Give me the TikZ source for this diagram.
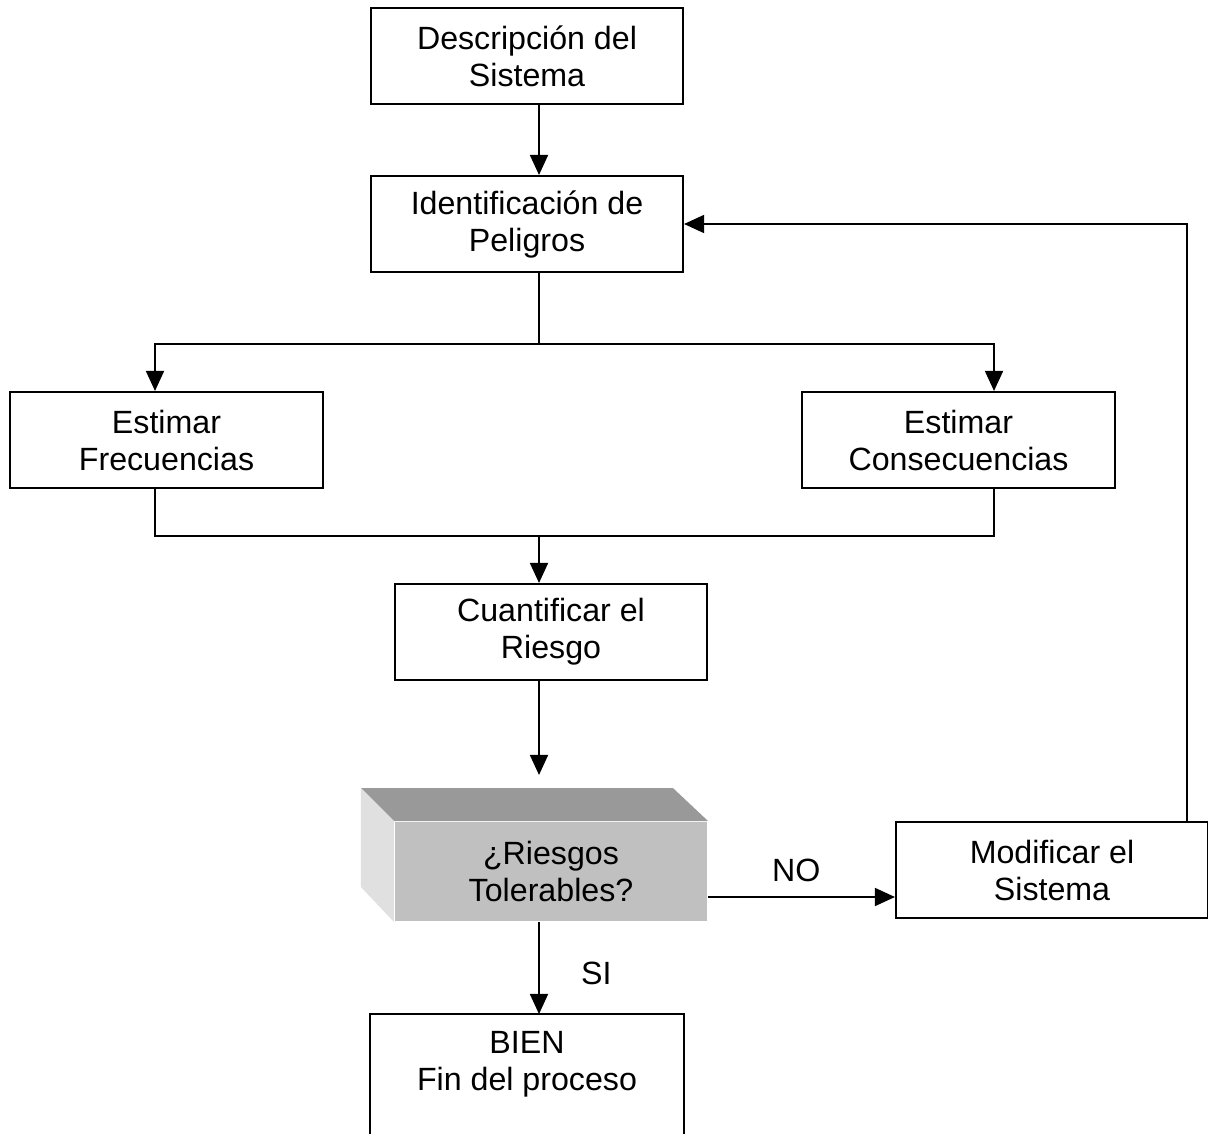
\documentclass[tikz,border=0pt]{standalone}
\usepackage{fontspec}
\setmainfont{Liberation Sans}
\usetikzlibrary{arrows.meta, positioning}
\definecolor{FaceFront}{HTML}{C0C0C0}
\definecolor{FaceTop}{HTML}{999999}
\definecolor{FaceSide}{HTML}{E0E0E0}

\begin{document}
\begin{tikzpicture}[
    x=0.373pt, y=-0.373pt,
    procbox/.style={rectangle, draw=black, fill=white, line width=0.75pt,
                  minimum height=35.8pt, minimum width=116.4pt, inner sep=2pt,
                  font=\fontsize{12}{13.8}\selectfont, align=center},
    tolbox/.style={procbox, draw=none, fill=FaceFront, minimum height=36.9pt},
    arr/.style={-{Triangle[length=7.5pt, width=6.7pt]}, line width=0.75pt},
    lin/.style={line width=0.75pt},
    lbl/.style={font=\fontsize{12}{13.8}\selectfont}
  ]
    \useasboundingbox (0,0) rectangle (1208,1133);
    \clip (0,0) rectangle (1208,1133);

    \node[procbox] (desc) at (527,56) {Descripción del\\Sistema};
    \node[procbox] (ident) at (527,224) {Identificación de\\Peligros};
    \node[procbox] (freq) at (166.5,440) {Estimar\\Frecuencias};
    \node[procbox] (cons) at (958.5,440) {Estimar\\Consecuencias};
    \node[procbox] (cuant) at (551,632) {Cuantificar el\\Riesgo};
    \node[procbox] (modif) at (1052,870) {Modificar el\\Sistema};
    \node[procbox, draw=none, minimum height=36.9pt] (bien) at (527,1064.5) {BIEN\\Fin del proceso};

    % caja en relieve
    \node[tolbox] (tol) at (551,871.5) {¿Riesgos\\Tolerables?};
    \fill[FaceTop] (tol.north west) -- ++(-33,-33) -- ++(312,0) -- (tol.north east) -- cycle;
    \fill[FaceSide] (tol.north west) -- ++(-33,-33) -- ++(0,99) -- (tol.south west) -- cycle;

    \coordinate (spine) at (539,0);
    \coordinate (fl) at (155,0);
    \coordinate (fr) at (994,0);
    \coordinate (fb) at (1187,0);
    \coordinate (split) at (539,344);
    \coordinate (join) at (539,536);
    \coordinate (tolin) at (539,775);
    \coordinate (noy) at (0,897);

    \draw[arr] (desc.south -| spine) -- (ident.north -| spine);
    \draw[lin] (ident.south -| spine) -- (split);
    \draw[arr] (split) -| (freq.north -| fl);
    \draw[arr] (split) -| (cons.north -| fr);
    \draw[lin] (freq.south -| fl) |- (join) -| (cons.south -| fr);
    \draw[arr] (join) -- (cuant.north -| spine);
    \draw[arr] (cuant.south -| spine) -- (tolin);
    \draw[arr] (tol.south -| spine) -- (bien.north -| spine)
      node[midway, right, lbl, xshift=12pt, yshift=-2pt] {SI};
    \draw[arr] (tol.east |- noy) -- (modif.west |- noy)
      node[midway, above, lbl, xshift=-2pt, yshift=2pt] {NO};
    \draw[arr] (modif.north -| fb) |- (ident.east);
    \draw[lin] ([yshift=-30pt]bien.south west) |- (bien.north east) -- ([yshift=-30pt]bien.south east);
  \end{tikzpicture}
\end{document}
